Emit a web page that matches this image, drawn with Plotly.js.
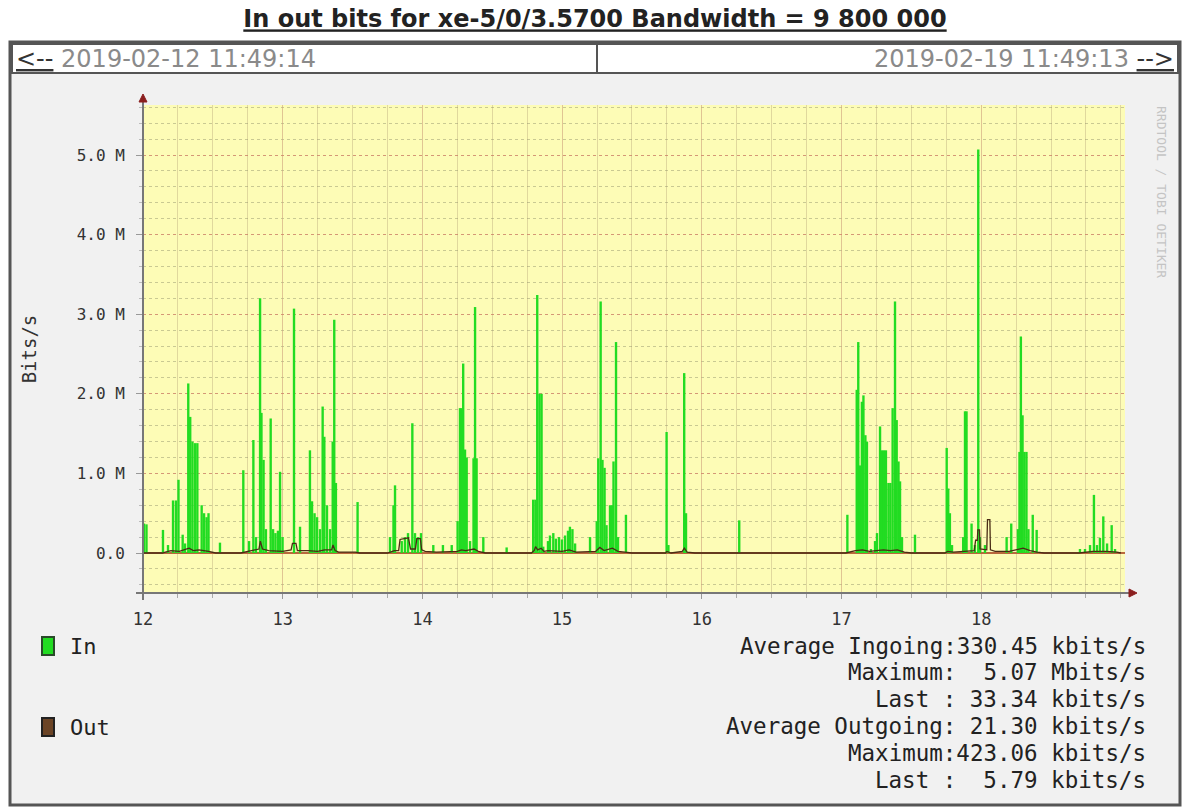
<!DOCTYPE html>
<html><head><meta charset="utf-8">
<script src="https://cdn.plot.ly/plotly-3.0.1.min.js"></script>
<style>html,body{margin:0;padding:0;background:#fff}#chart{width:1190px;height:810px}</style>
</head><body><div id="chart"></div>
<script>
// ---- data (day of month, Mbit/s) ----
const inDay = [12.007,12.025,12.143,12.179,12.215,12.236,12.254,12.284,12.301,12.324,12.338,12.354,12.372,12.389,12.420,12.437,12.455,12.469,12.551,
12.718,12.759,12.790,12.809,12.838,12.848,12.863,12.880,12.914,12.931,12.948,12.966,12.981,12.999,13.081,13.124,13.195,13.210,13.228,13.246,13.267,
13.286,13.298,13.317,13.339,13.358,13.369,13.381,13.536,13.768,13.793,13.804,13.852,13.875,13.897,13.928,13.947,13.968,13.990,14.078,14.147,14.210,
14.252,14.269,14.281,14.292,14.305,14.317,14.341,14.366,14.377,14.388,14.436,14.603,14.793,14.809,14.822,14.838,14.853,14.865,14.899,14.913,14.937,
14.956,14.978,14.999,15.021,15.042,15.056,15.074,15.093,15.200,15.248,15.259,15.276,15.289,15.304,15.318,15.343,15.357,15.368,15.386,15.400,15.457,
15.748,15.761,15.874,15.887,16.268,17.042,17.109,17.120,17.132,17.146,17.157,17.171,17.182,17.211,17.240,17.254,17.276,17.290,17.304,17.318,17.336,
17.350,17.366,17.383,17.395,17.408,17.419,17.433,17.526,17.753,17.764,17.776,17.791,17.871,17.884,17.895,17.931,17.955,17.979,17.991,18.027,18.182,
18.215,18.263,18.274,18.284,18.296,18.309,18.324,18.338,18.369,18.397,18.707,18.743,18.779,18.807,18.829,18.850,18.874,18.901,18.934,18.958];
const inMbps = [0.37,0.36,0.29,0.10,0.66,0.66,0.92,0.23,0.12,2.13,1.71,1.40,1.38,1.38,0.60,0.50,0.45,0.50,0.13,
1.04,0.15,1.42,0.20,3.20,1.76,1.17,0.30,1.69,0.30,0.25,0.28,1.02,0.20,3.07,0.33,1.29,0.65,0.50,0.45,0.30,
1.84,1.46,0.60,0.30,1.40,2.93,0.88,0.64,0.20,0.60,0.85,0.15,0.20,0.25,1.63,0.25,0.20,0.25,0.10,0.10,0.10,
0.40,1.82,1.82,2.38,1.30,1.20,0.15,1.19,3.09,1.19,0.20,0.07,0.67,0.67,3.24,2.00,2.00,0.08,0.15,0.22,0.25,
0.18,0.20,0.17,0.22,0.28,0.33,0.30,0.12,0.20,0.40,1.19,3.16,1.17,1.07,0.35,0.60,0.60,1.15,2.65,0.20,0.48,
1.52,0.10,2.26,0.50,0.41,0.48,2.05,2.65,1.10,1.90,1.98,1.48,1.40,0.05,0.15,0.25,1.59,1.29,1.29,1.29,0.88,
0.88,1.82,3.16,1.67,1.15,0.90,0.20,0.23,1.32,0.81,0.50,0.10,0.20,1.78,1.78,0.37,0.10,5.07,0.20,0.10,0.20,
0.37,0.30,1.27,2.72,1.73,1.27,1.27,0.30,0.48,0.29,0.05,0.05,0.10,0.73,0.10,0.19,0.46,0.12,0.35,0.05];

const outDay = [12.000,12.140,12.160,12.200,12.260,12.300,12.330,12.360,12.400,12.470,12.520,12.700,12.780,12.830,12.840,12.855,12.900,13.000,
13.060,13.070,13.095,13.105,13.180,13.250,13.300,13.350,13.360,13.375,13.400,13.520,13.550,13.750,13.800,13.830,13.840,13.900,13.915,13.950,
13.960,13.985,13.995,14.020,14.100,14.250,14.280,14.310,14.370,14.400,14.450,14.780,14.800,14.810,14.825,14.850,14.870,14.900,15.000,15.050,
15.100,15.240,15.270,15.300,15.360,15.400,15.450,15.500,15.740,15.750,15.780,15.860,15.875,15.895,15.950,17.030,17.100,17.150,17.200,17.250,
17.300,17.350,17.400,17.450,17.500,17.740,17.760,17.800,17.870,17.950,17.960,17.972,17.976,17.988,17.992,18.040,18.045,18.062,18.066,18.100,
18.200,18.270,18.300,18.350,18.400,18.450,18.700,18.800,18.900,18.970,19.000];
const outMbps = [0.00,0.00,0.01,0.03,0.02,0.04,0.06,0.03,0.04,0.02,0.00,0.00,0.03,0.05,0.15,0.05,0.03,0.02,
0.04,0.12,0.12,0.03,0.03,0.02,0.04,0.04,0.10,0.03,0.01,0.01,0.00,0.00,0.03,0.03,0.17,0.19,0.05,0.05,
0.18,0.18,0.04,0.02,0.01,0.02,0.04,0.03,0.05,0.02,0.00,0.00,0.03,0.08,0.04,0.06,0.02,0.03,0.02,0.04,
0.01,0.02,0.07,0.03,0.06,0.02,0.01,0.00,0.00,0.02,0.00,0.02,0.06,0.01,0.00,0.00,0.03,0.04,0.02,0.03,
0.04,0.03,0.04,0.01,0.00,0.00,0.02,0.01,0.02,0.03,0.16,0.16,0.29,0.29,0.05,0.04,0.42,0.42,0.04,0.02,
0.02,0.05,0.06,0.03,0.01,0.00,0.00,0.02,0.02,0.01,0.00];

const dayTicks = [12,13,14,15,16,17,18];
const dayLabels = ['12','13','14','15','16','17','18'];
const yTicks = [0,1,2,3,4,5];
const yLabels = ['0.0','1.0 M','2.0 M','3.0 M','4.0 M','5.0 M'];
const seriesNames = ['In','Out'];
const statsIn = ['Average Ingoing:330.45 kbits/s','Maximum:  5.07 Mbits/s','Last : 33.34 kbits/s'];
const statsOut = ['Average Outgoing: 21.30 kbits/s','Maximum:423.06 kbits/s','Last :  5.79 kbits/s'];
const titleText = 'In out bits for xe-5/0/3.5700 Bandwidth = 9 800 000';
const startText = '2019-02-12 11:49:14';
const endText = '2019-02-19 11:49:13';

// ---- layout helpers (pixel -> paper) ----
const L = 143, R = 1125, T = 105, B = 593;
const px = v => (v - L) / (R - L);
const py = v => (B - v) / (B - T);
const MONO = 'DejaVu Sans Mono', SANS = 'DejaVu Sans';
const GREEN = '#22dc22', BROWN = '#4a2c14', BROWNFILL = '#6b4426';

const traces = [
  {type:'bar', name:seriesNames[0], x:inDay, y:inMbps, width:0.017,
   marker:{color:GREEN, line:{width:0}}, showlegend:false, hoverinfo:'skip'},
  {type:'scatter', mode:'lines', name:seriesNames[1], x:outDay, y:outMbps,
   line:{color:BROWN, width:1.3}, showlegend:false, hoverinfo:'skip'}
];

const shapes = [
  {type:'rect', xref:'paper', yref:'paper', x0:px(10), x1:px(1180), y0:py(805), y1:py(42),
   fillcolor:'#f1f1f1', line:{color:'#555', width:3}, layer:'below'},
  {type:'rect', xref:'paper', yref:'paper', x0:0, x1:1, y0:0, y1:1,
   fillcolor:'#fdfcb6', line:{width:0}, layer:'below'},
  {type:'rect', xref:'paper', yref:'paper', x0:px(12), x1:px(1178), y0:py(73), y1:py(44),
   fillcolor:'#ffffff', line:{color:'#555', width:2}, layer:'below'},
  {type:'line', xref:'paper', yref:'paper', x0:px(597), x1:px(597), y0:py(73), y1:py(44),
   line:{color:'#555', width:2}},
  // axis lines
  {type:'line', xref:'paper', yref:'paper', x0:px(143), x1:px(143), y0:py(600), y1:py(100),
   line:{color:'#777', width:2}},
  {type:'line', xref:'paper', yref:'paper', x0:px(136), x1:px(1130), y0:py(593), y1:py(593),
   line:{color:'#777', width:2}},
  // arrows
  {type:'path', xref:'paper', yref:'paper',
   path:`M ${px(139)} ${py(102)} L ${px(147)} ${py(102)} L ${px(143)} ${py(94)} Z`,
   fillcolor:'#8b1f1f', line:{color:'#8b1f1f', width:1}},
  {type:'path', xref:'paper', yref:'paper',
   path:`M ${px(1129)} ${py(589)} L ${px(1129)} ${py(597)} L ${px(1137)} ${py(593)} Z`,
   fillcolor:'#8b1f1f', line:{color:'#8b1f1f', width:1}},
  // legend squares
  {type:'rect', xref:'paper', yref:'paper', x0:px(42), x1:px(54), y0:py(655), y1:py(637),
   fillcolor:GREEN, line:{color:'#2a4a2a', width:2}},
  {type:'rect', xref:'paper', yref:'paper', x0:px(42), x1:px(54), y0:py(736), y1:py(718),
   fillcolor:BROWNFILL, line:{color:'#222', width:2}}
];

const ann = [];
ann.push({xref:'paper', yref:'paper', x:px(14), y:py(59), xanchor:'left', yanchor:'middle', showarrow:false,
  text:'<u>&lt;--</u> <span style="color:#8a8a8a">' + startText + '</span>', font:{family:SANS, size:24, color:'#333'}});
ann.push({xref:'paper', yref:'paper', x:px(1176), y:py(59), xanchor:'right', yanchor:'middle', showarrow:false,
  text:'<span style="color:#8a8a8a">' + endText + '</span> <u>--&gt;</u>', font:{family:SANS, size:24, color:'#333'}});
ann.push({xref:'paper', yref:'paper', x:px(1162), y:py(192), xanchor:'center', yanchor:'middle', showarrow:false,
  textangle:90, text:'RRDTOOL / TOBI OETIKER', font:{family:MONO, size:13, color:'#c4c4c4'}});
ann.push({xref:'paper', yref:'paper', x:px(68), y:py(646), xanchor:'left', yanchor:'middle', showarrow:false,
  text:seriesNames[0], font:{family:MONO, size:22, color:'#222'}});
ann.push({xref:'paper', yref:'paper', x:px(68), y:py(727), xanchor:'left', yanchor:'middle', showarrow:false,
  text:seriesNames[1], font:{family:MONO, size:22, color:'#222'}});
const statRows = [646, 672, 699, 726, 753, 780];
statsIn.concat(statsOut).forEach((s, i) => {
  ann.push({xref:'paper', yref:'paper', x:px(1148), y:py(statRows[i]), xanchor:'right', yanchor:'middle',
    showarrow:false, text:s, font:{family:MONO, size:22.5, color:'#222'}});
});

const layout = {
  width:1190, height:810,
  margin:{l:L, r:1190-R, t:T, b:810-B, pad:0},
  paper_bgcolor:'#ffffff', plot_bgcolor:'rgba(0,0,0,0)',
  title:{text:'<b><u>' + titleText + '</u></b>', x:0.5, xanchor:'center', xref:'container',
         y:1 - 19/810, yanchor:'middle', yref:'container', font:{family:SANS, size:24, color:'#222'}},
  barmode:'overlay',
  showlegend:false,
  xaxis:{range:[12, 12 + (R - L) / 139.7], tickmode:'array', tickvals:dayTicks, ticktext:dayLabels,
    showline:false, zeroline:false, showgrid:true, gridcolor:'rgba(225,175,135,0.45)', gridwidth:1,
    ticks:'outside', ticklen:5, tickcolor:'#999', ticklabelstandoff:6,
    tickfont:{family:MONO, size:17, color:'#333'},
    minor:{tickmode:'linear', tick0:12, dtick:0.25, showgrid:true, gridcolor:'rgba(205,192,140,0.6)',
           ticks:'outside', ticklen:4, tickcolor:'#aaa'}},
  yaxis:{range:[-(B - 553) / 79.6, (553 - T) / 79.6], tickmode:'array', tickvals:yTicks, ticktext:yLabels,
    showline:false, zeroline:true, zerolinecolor:'#b8683c', zerolinewidth:1.5,
    showgrid:true, gridcolor:'rgba(220,120,100,0.6)', griddash:'dot', gridwidth:1,
    ticks:'outside', ticklen:6, tickcolor:'#999', ticklabelstandoff:8,
    tickfont:{family:MONO, size:16, color:'#333'},
    title:{text:'Bits/s', font:{family:MONO, size:19, color:'#333'}, standoff:34},
    minor:{tickmode:'linear', tick0:0, dtick:0.2, showgrid:true, gridcolor:'rgba(150,150,110,0.5)',
           griddash:'dot', ticks:'outside', ticklen:3, tickcolor:'#bbb'}},
  shapes:shapes,
  annotations:ann
};

Plotly.newPlot('chart', traces, layout, {displayModeBar:false, staticPlot:true});
</script>
</body></html>
